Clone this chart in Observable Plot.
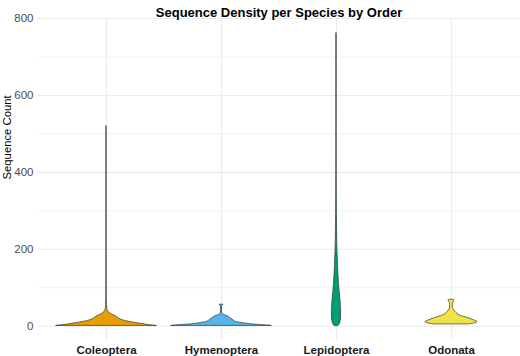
<!DOCTYPE html>
<html>
<head>
<meta charset="utf-8">
<script src="https://cdn.jsdelivr.net/npm/d3@7"></script>
<script src="https://cdn.jsdelivr.net/npm/@observablehq/plot@0.6"></script>
<style>
  html, body { margin: 0; padding: 0; background: #fff; }
  svg { display: block; }
</style>
</head>
<body>
<div id="chart"></div>
<script>
const title = "Sequence Density per Species by Order";
const yLabel = "Sequence Count";
const orders = ["Coleoptera", "Hymenoptera", "Lepidoptera", "Odonata"];
const colors = ["#E69F00", "#56B4E9", "#009E73", "#F0E442"];
const yTicks = [0, 200, 400, 600, 800];
const yMinor = [100, 300, 500, 700];

// Violin profiles: sequence count values and relative density (half-width) at each
const coleopteraValues  = [1, 4, 7, 10, 13, 17, 21, 26, 30, 35, 39, 45, 55, 80, 200, 520];
const coleopteraDensity = [1.0, 0.8, 0.66, 0.52, 0.4, 0.3, 0.24, 0.19, 0.12, 0.06, 0.03, 0.016, 0.008, 0.004, 0.003, 0.003];

const hymenopteraValues  = [1, 2.3, 4, 8, 12, 15.5, 21, 26, 28.5, 31, 34, 52, 54.5, 56];
const hymenopteraDensity = [1.0, 0.9, 0.7, 0.44, 0.28, 0.24, 0.18, 0.12, 0.07, 0.03, 0.012, 0.012, 0.03, 0.04];

const lepidopteraValues  = [1, 4, 10, 20, 40, 60, 80, 110, 160, 220, 300, 400, 550, 762];
const lepidopteraDensity = [0.04, 0.06, 0.076, 0.09, 0.092, 0.084, 0.07, 0.05, 0.03, 0.014, 0.007, 0.004, 0.003, 0.003];

const odonataValues  = [5, 8, 11, 14, 17, 20, 24, 28, 32, 37, 42, 47, 55, 61, 65, 67, 69];
const odonataDensity = [0.36, 0.48, 0.52, 0.48, 0.42, 0.36, 0.26, 0.17, 0.12, 0.08, 0.05, 0.032, 0.028, 0.036, 0.056, 0.06, 0.04];

const profileValues = [coleopteraValues, hymenopteraValues, lepidopteraValues, odonataValues];
const profileDensity = [coleopteraDensity, hymenopteraDensity, lepidopteraDensity, odonataDensity];

const rows = [];
orders.forEach((order, i) => {
  profileValues[i].forEach((v, j) => {
    rows.push({order, pos: i + 1, value: v, density: profileDensity[i][j]});
  });
});

const k = 0.435; // half-width (in category units) of density 1
const font = "'Liberation Sans', Arial, Helvetica, sans-serif";

const chart = Plot.plot({
  width: 520,
  height: 356,
  marginLeft: 37,
  marginRight: 0,
  marginTop: 18,
  marginBottom: 16,
  style: {fontFamily: font, background: "#fff", overflow: "visible"},
  x: {domain: [0.4, 4.6], label: null},
  y: {domain: [-37, 800], label: null},
  color: {domain: orders, range: colors},
  marks: [
    Plot.gridY(yMinor, {stroke: "#EBEBEB", strokeOpacity: 1, strokeWidth: 0.6}),
    Plot.gridY(yTicks, {stroke: "#EBEBEB", strokeOpacity: 1, strokeWidth: 1.1}),
    Plot.gridX([1, 2, 3, 4], {stroke: "#EBEBEB", strokeOpacity: 1, strokeWidth: 1.1}),
    Plot.areaX(rows, {
      y: "value",
      x1: d => d.pos - d.density * k,
      x2: d => d.pos + d.density * k,
      z: "order",
      fill: "order",
      stroke: "#333333",
      strokeWidth: 0.7,
      curve: "monotone-y"
    }),
    Plot.axisY(yTicks, {tickSize: 0, tickPadding: 4, fontSize: 11.5, color: "#4D4D4D", label: null}),
    Plot.axisX([1, 2, 3, 4], {
      tickSize: 0, tickPadding: 5, fontSize: 11.5, fontWeight: "bold", color: "#1A1A1A",
      tickFormat: i => orders[i - 1], label: null
    }),
    Plot.text([yLabel], {text: d => d, frameAnchor: "left", dx: -30, rotate: -90, fontSize: 11.3, fill: "#000"}),
    Plot.text([title], {text: d => d, frameAnchor: "top", dy: -11, fontSize: 13, fontWeight: "bold", fill: "#000"})
  ]
});
document.getElementById("chart").appendChild(chart);
</script>
</body>
</html>
